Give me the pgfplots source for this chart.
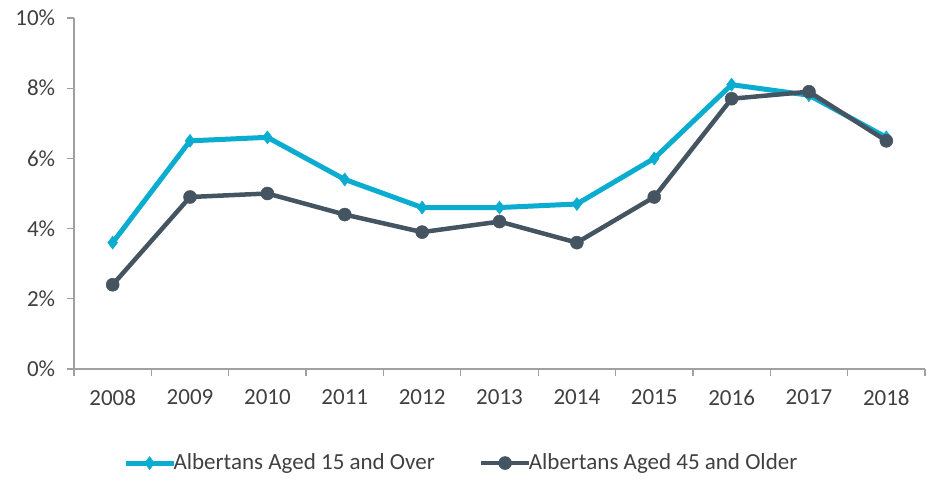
\documentclass[border=0pt]{standalone}
\usepackage{fontspec}
\setmainfont{Carlito}
\usepackage{pgfplots}
\pgfplotsset{compat=1.18}
\definecolor{cy}{RGB}{10,172,208}
\definecolor{dk}{RGB}{68,84,96}
\definecolor{ax}{RGB}{160,160,160}
\definecolor{tx}{RGB}{64,64,64}
\begin{document}
\fontsize{23}{27}\selectfont
\begin{tikzpicture}
\path[use as bounding box] (-74pt,-112pt) rectangle (863pt,369pt);
\begin{axis}[
  at={(0,0)}, anchor=south west,
  scale only axis, width=851pt, height=351pt,
  xmin=-0.5, xmax=10.5, ymin=0, ymax=10,
  axis lines=left, axis line style={-, ax, line width=1.3pt},
  xtick={0,...,10},
  xticklabels={2008,2009,2010,2011,2012,2013,2014,2015,2016,2017,2018},
  minor xtick={-0.5,0.5,...,10.5},
  major x tick style={draw=none},
  minor tick length=7pt,
  tick align=outside,
  ytick={0,2,...,10},
  yticklabels={0\%,2\%,4\%,6\%,8\%,10\%},
  major tick length=7pt,
  tick style={ax, line width=1.3pt},
  ticklabel style={font=\fontsize{23}{27}\selectfont, text=tx},
  xticklabel style={yshift=-6pt},
  yticklabel style={xshift=-4pt},
  legend columns=2,
  legend style={at={(0.455,-0.268)}, anchor=center, draw=none, fill=none,
    font=\fontsize{23}{27}\selectfont, text=tx,
    /tikz/every even column/.append style={column sep=42pt},
    inner sep=0pt},
  legend image code/.code={\draw[mark repeat=2,mark phase=2,#1] plot coordinates {(0pt,0pt) (24pt,0pt) (48pt,0pt)};},
]
\addplot[cy, line width=5pt, mark=diamond*, mark size=6.5pt, mark options={solid, line width=0.5pt}] coordinates {
(0,3.6) (1,6.5) (2,6.6) (3,5.4) (4,4.6) (5,4.6) (6,4.7) (7,6.0) (8,8.1) (9,7.8) (10,6.6)};
\addlegendentry{\hspace{-4.5pt}Albertans Aged 15 and Over}
\addplot[dk, line width=4.5pt, mark=*, mark size=6.5pt, mark options={solid, line width=0.5pt}] coordinates {
(0,2.4) (1,4.9) (2,5.0) (3,4.4) (4,3.9) (5,4.2) (6,3.6) (7,4.9) (8,7.7) (9,7.9) (10,6.5)};
\addlegendentry{\hspace{-4.5pt}Albertans Aged 45 and Older}
\end{axis}
\end{tikzpicture}
\end{document}
